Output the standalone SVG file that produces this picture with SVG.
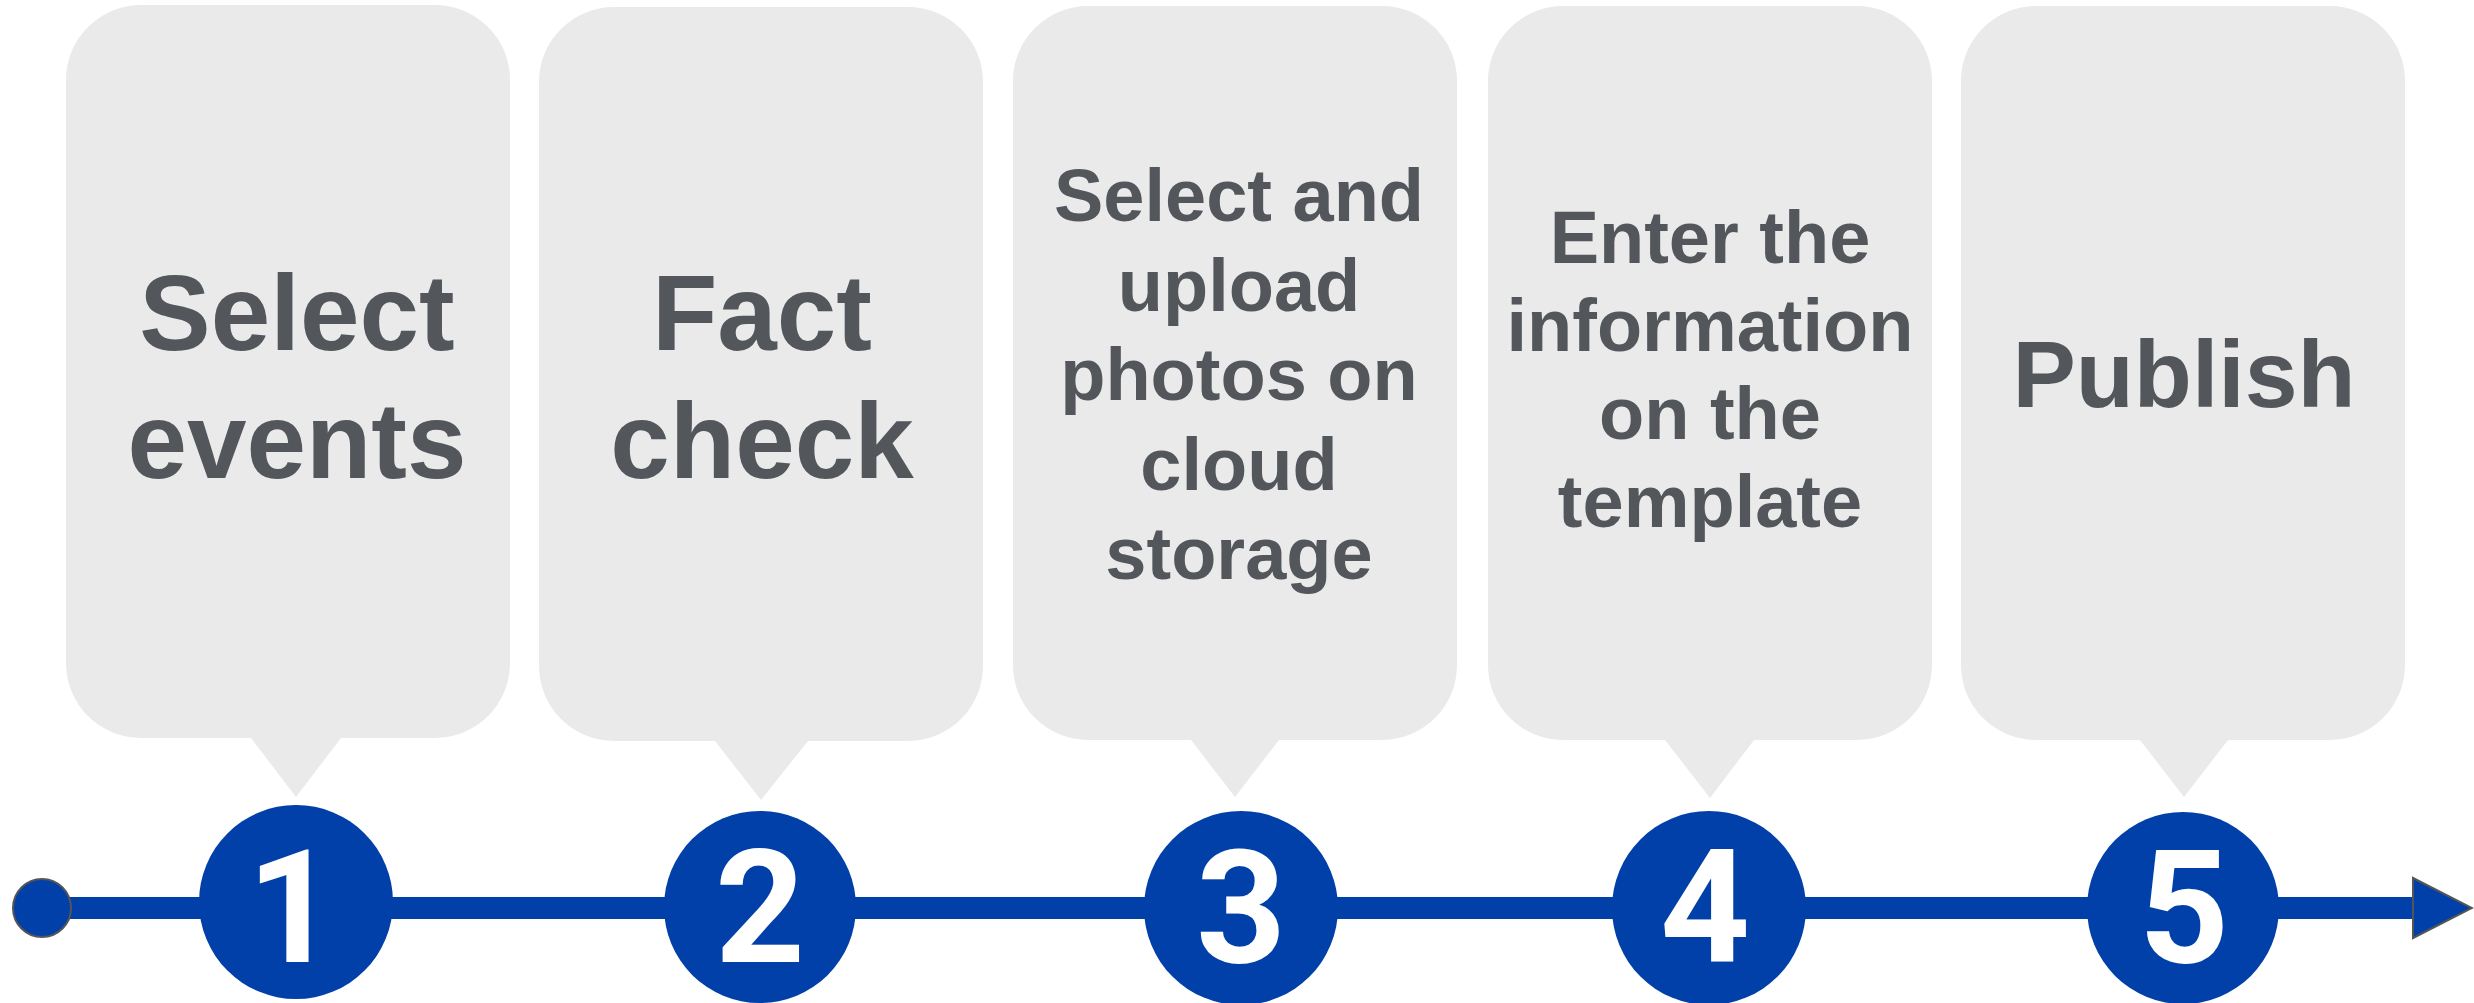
<svg xmlns="http://www.w3.org/2000/svg" width="2474" height="1003" viewBox="0 0 2474 1003">
<style>
.bubble{fill:#EAEAEA}
.lbl{font-family:"Liberation Sans",Arial,Helvetica,sans-serif;font-weight:bold;fill:#53575C;text-anchor:middle}
.big{font-size:107px}
.mid{font-size:74px}
.pub{font-size:95px}
.dot{fill:#0040A8}
.num{font-family:Roboto,"Liberation Sans",Arial,sans-serif;font-weight:bold;font-size:157px;fill:#FFFFFF;text-anchor:middle}
</style>
<rect width="2474" height="1003" fill="#FFFFFF"/>
<g id="connectors">
  <rect x="42" y="897" width="2371" height="22" fill="#0040A8"/>
  <circle cx="42" cy="908" r="29" fill="#0040A8" stroke="#555555" stroke-width="2"/>
  <polygon points="2413,878 2472,908 2413,938" fill="#0040A8" stroke="#555555" stroke-width="2"/>
</g>
<g id="step1">
  <path class="bubble" d="M141,5 H435 A75,75 0 0 1 510,80 V663 A75,75 0 0 1 435,738 H341 L296,797 L251,738 H141 A75,75 0 0 1 66,663 V80 A75,75 0 0 1 141,5 Z"/>
  <text class="lbl big" x="297" y="350">Select</text>
  <text class="lbl big" x="297" y="478">events</text>
  <circle class="dot" cx="296" cy="902" r="97"/>
  <text class="num" x="292" y="962">1</text>
</g>
<g id="step2">
  <path class="bubble" d="M614,7 H908 A75,75 0 0 1 983,82 V666 A75,75 0 0 1 908,741 H808 L761,800 L715,741 H614 A75,75 0 0 1 539,666 V82 A75,75 0 0 1 614,7 Z"/>
  <text class="lbl big" x="762" y="350">Fact</text>
  <text class="lbl big" x="762" y="478">check</text>
  <circle class="dot" cx="760" cy="907" r="96"/>
  <text class="num" x="760" y="962">2</text>
</g>
<g id="step3">
  <path class="bubble" d="M1088,6 H1382 A75,75 0 0 1 1457,81 V665 A75,75 0 0 1 1382,740 H1279 L1235,797 L1191,740 H1088 A75,75 0 0 1 1013,665 V81 A75,75 0 0 1 1088,6 Z"/>
  <text class="lbl mid" x="1239" y="221">Select and</text>
  <text class="lbl mid" x="1239" y="311">upload</text>
  <text class="lbl mid" x="1239" y="400">photos on</text>
  <text class="lbl mid" x="1239" y="490">cloud</text>
  <text class="lbl mid" x="1239" y="579">storage</text>
  <circle class="dot" cx="1241" cy="908" r="97"/>
  <text class="num" x="1241" y="962">3</text>
</g>
<g id="step4">
  <path class="bubble" d="M1563,6 H1857 A75,75 0 0 1 1932,81 V665 A75,75 0 0 1 1857,740 H1754 L1710,798 L1665,740 H1563 A75,75 0 0 1 1488,665 V81 A75,75 0 0 1 1563,6 Z"/>
  <text class="lbl mid" x="1710" y="263">Enter the</text>
  <text class="lbl mid" x="1710" y="351">information</text>
  <text class="lbl mid" x="1710" y="439">on the</text>
  <text class="lbl mid" x="1710" y="527">template</text>
  <circle class="dot" cx="1709" cy="908" r="97"/>
  <text class="num" x="1705" y="962">4</text>
</g>
<g id="step5">
  <path class="bubble" d="M2036,6 H2330 A75,75 0 0 1 2405,81 V665 A75,75 0 0 1 2330,740 H2228 L2184,797 L2140,740 H2036 A75,75 0 0 1 1961,665 V81 A75,75 0 0 1 2036,6 Z"/>
  <text class="lbl pub" x="2184" y="407">Publish</text>
  <circle class="dot" cx="2183" cy="908" r="96"/>
  <text class="num" x="2184" y="962">5</text>
</g>
</svg>
